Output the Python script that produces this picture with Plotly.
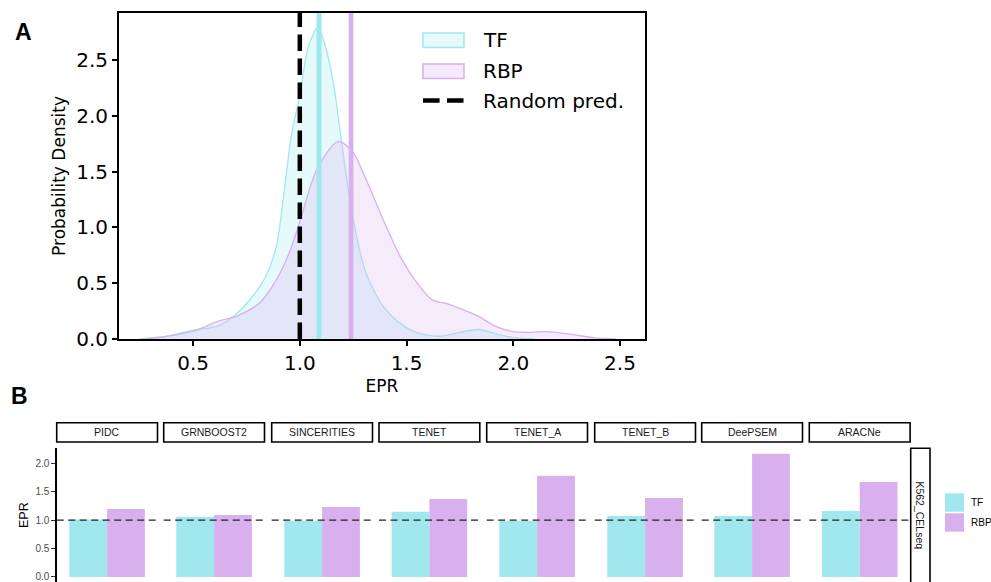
import plotly.graph_objects as go

W, H = 991, 582

# ---------------- Panel A data (KDE) ----------------
tf_x = [0.25, 0.39, 0.50, 0.58, 0.62, 0.70, 0.78, 0.84, 0.89, 0.93, 0.96, 1.00, 1.04,
        1.085, 1.12, 1.16, 1.20, 1.25, 1.31, 1.39, 1.47, 1.55, 1.66, 1.75, 1.84, 1.93, 2.00, 2.10]
tf_density = [0.0, 0.03, 0.08, 0.10, 0.12, 0.22, 0.385, 0.56, 0.83, 1.37, 1.82, 2.18, 2.62,
              2.79, 2.62, 2.26, 1.70, 1.07, 0.59, 0.295, 0.14, 0.054, 0.025, 0.06, 0.085, 0.04, 0.012, 0.0]
rbp_x = [0.28, 0.40, 0.50, 0.62, 0.71, 0.81, 0.89, 0.95, 1.00, 1.08, 1.18, 1.25, 1.31, 1.39,
         1.47, 1.55, 1.62, 1.70, 1.78, 1.84, 1.92, 2.00, 2.08, 2.16, 2.28, 2.38, 2.48]
rbp_density = [0.0, 0.03, 0.07, 0.16, 0.21, 0.32, 0.53, 0.77, 1.05, 1.52, 1.77, 1.67, 1.43, 1.07,
               0.74, 0.50, 0.35, 0.31, 0.25, 0.20, 0.11, 0.066, 0.06, 0.066, 0.04, 0.01, 0.0]
tf_mean_epr = 1.09
rbp_mean_epr = 1.24
random_epr = 1.0
a_xticks = [0.5, 1.0, 1.5, 2.0, 2.5]
a_yticks = [0.0, 0.5, 1.0, 1.5, 2.0, 2.5]

# ---------------- Panel B data ----------------
methods = ["PIDC", "GRNBOOST2", "SINCERITIES", "TENET", "TENET_A", "TENET_B", "DeePSEM", "ARACNe"]
tf_epr = [1.01, 1.06, 0.985, 1.145, 0.985, 1.07, 1.07, 1.16]
rbp_epr = [1.195, 1.09, 1.23, 1.37, 1.78, 1.39, 2.165, 1.67]
dataset = "K562_CELseq"
b_yticks = [0.0, 0.5, 1.0, 1.5, 2.0]

CYAN = "#A0E8EE"
PURPLE = "#D8B0EE"
CYAN_FILL = "rgba(160,232,238,0.26)"
PURPLE_FILL = "rgba(216,176,238,0.26)"
DV = "DejaVu Sans"
LS = "Liberation Sans"


def px(x):
    return x / W


def py(y):
    return 1 - y / H


fig = go.Figure()
shapes = []
annotations = []

# ---------------- Panel A ----------------
fig.add_trace(go.Scatter(x=tf_x, y=tf_density, mode="lines", line=dict(color=CYAN, width=1.3, shape="spline", smoothing=0.8),
                         fill="tozeroy", fillcolor=CYAN_FILL, xaxis="x", yaxis="y", showlegend=False, hoverinfo="skip"))
fig.add_trace(go.Scatter(x=rbp_x, y=rbp_density, mode="lines", line=dict(color=PURPLE, width=1.3, shape="spline", smoothing=0.8),
                         fill="tozeroy", fillcolor=PURPLE_FILL, xaxis="x", yaxis="y", showlegend=False, hoverinfo="skip"))

shapes.append(dict(type="line", xref="x", yref="y domain", x0=random_epr, x1=random_epr, y0=0, y1=1,
                   line=dict(color="black", width=4.5, dash="16.6px,7.4px")))
shapes.append(dict(type="line", xref="x", yref="y domain", x0=tf_mean_epr, x1=tf_mean_epr, y0=0, y1=1,
                   line=dict(color=CYAN, width=5)))
shapes.append(dict(type="line", xref="x", yref="y domain", x0=rbp_mean_epr, x1=rbp_mean_epr, y0=0, y1=1,
                   line=dict(color=PURPLE, width=4.7)))

# legend A (manual)
leg_rows = [("TF", 40), ("RBP", 71), ("Random pred.", 101)]
shapes.append(dict(type="rect", xref="paper", yref="paper", x0=px(423), x1=px(464), y0=py(47.5), y1=py(33),
                   fillcolor=CYAN_FILL, line=dict(color=CYAN, width=1.5)))
shapes.append(dict(type="rect", xref="paper", yref="paper", x0=px(423), x1=px(464), y0=py(78.5), y1=py(64),
                   fillcolor=PURPLE_FILL, line=dict(color=PURPLE, width=1.5)))
shapes.append(dict(type="line", xref="paper", yref="paper", x0=px(423), x1=px(463.5), y0=py(100.5), y1=py(100.5),
                   line=dict(color="black", width=4.5, dash="16.6px,7.4px")))
for label, yy in leg_rows:
    annotations.append(dict(text=label, xref="paper", yref="paper", x=px(481), y=py(yy), xanchor="left",
                            yanchor="middle", showarrow=False, font=dict(family=DV, size=20, color="black")))

annotations.append(dict(text="<b>A</b>", xref="paper", yref="paper", x=px(23), y=py(32), xanchor="center",
                        yanchor="middle", showarrow=False, font=dict(family=LS, size=23, color="black")))
annotations.append(dict(text="<b>B</b>", xref="paper", yref="paper", x=px(19), y=py(396), xanchor="center",
                        yanchor="middle", showarrow=False, font=dict(family=LS, size=23, color="black")))

layout_axes = {}
layout_axes["xaxis"] = dict(domain=[px(119), px(645)], range=[0.153, 2.617], anchor="y", automargin=False,
                            tickvals=a_xticks, ticktext=[f"{v:.1f}" for v in a_xticks],
                            showline=True, mirror=True, linecolor="black", linewidth=2,
                            ticks="outside", ticklen=5, tickwidth=1.5, tickcolor="black",
                            showgrid=False, zeroline=False,
                            tickfont=dict(family=DV, size=20, color="black"),
                            title=dict(text="EPR", font=dict(family=DV, size=17, color="black"), standoff=6))
layout_axes["yaxis"] = dict(domain=[py(339), py(13)], range=[0, 2.92], anchor="x", automargin=False,
                            tickvals=a_yticks, ticktext=[f"{v:.1f}" for v in a_yticks],
                            showline=True, mirror=True, linecolor="black", linewidth=2,
                            ticks="outside", ticklen=5, tickwidth=1.5, tickcolor="black",
                            showgrid=False, zeroline=False,
                            tickfont=dict(family=DV, size=20, color="black"),
                            title=dict(text="Probability Density", font=dict(family=DV, size=17, color="black"), standoff=6))

# ---------------- Panel B ----------------
panel_left = [56.7, 163.7, 271.7, 379.0, 486.7, 594.7, 701.7, 809.3]
panel_w = 100.8
strip_top, strip_bot = 422.7, 442.0
panel_top = 448.3

for i, m in enumerate(methods):
    xa = f"x{i + 2}"
    fig.add_trace(go.Bar(x=[m], y=[tf_epr[i]], xaxis=xa, yaxis="y2", width=0.45, offset=-0.45,
                         marker=dict(color=CYAN, line=dict(width=0)), showlegend=False, hoverinfo="skip"))
    fig.add_trace(go.Bar(x=[m], y=[rbp_epr[i]], xaxis=xa, yaxis="y2", width=0.45, offset=0.0,
                         marker=dict(color=PURPLE, line=dict(width=0)), showlegend=False, hoverinfo="skip"))
    layout_axes[f"xaxis{i + 2}"] = dict(domain=[px(panel_left[i]), px(panel_left[i] + panel_w)],
                                        anchor="y2", range=[-0.6, 0.6], showticklabels=False, automargin=False,
                                        showline=False, ticks="", showgrid=False, zeroline=False)
    shapes.append(dict(type="line", xref=f"{xa} domain", yref="y2", x0=0, x1=1, y0=1.0, y1=1.0,
                       line=dict(color="#222222", width=1.1, dash="7px,4.5px"), layer="above"))
    shapes.append(dict(type="rect", xref=f"{xa} domain", yref="paper", x0=0, x1=1,
                       y0=py(strip_bot), y1=py(strip_top), fillcolor="white",
                       line=dict(color="black", width=1.6)))
    annotations.append(dict(text=m, xref=f"{xa} domain", yref="paper", x=0.5, y=py((strip_top + strip_bot) / 2),
                            xanchor="center", yanchor="middle", showarrow=False,
                            font=dict(family=LS, size=10.5, color="#1a1a1a")))

layout_axes["yaxis2"] = dict(domain=[0, py(panel_top)], range=[-0.088, 2.262], anchor="x2", automargin=False,
                             tickvals=b_yticks, ticktext=[f"{v:.1f}" for v in b_yticks],
                             ticklabeloverflow="allow",
                             showline=True, linecolor="black", linewidth=1.6,
                             ticks="outside", ticklen=3.5, tickwidth=1, tickcolor="#333333",
                             showgrid=False, zeroline=False,
                             tickfont=dict(family=LS, size=10, color="#4D4D4D"),
                             title=dict(text="EPR", font=dict(family=LS, size=12.5, color="black"), standoff=4))

# right strip
shapes.append(dict(type="rect", xref="paper", yref="paper", x0=px(910.7), x1=px(930), y0=py(600), y1=py(panel_top),
                   fillcolor="white", line=dict(color="black", width=1.6)))
annotations.append(dict(text=dataset, xref="paper", yref="paper", x=px(920.3), y=py(515.7), textangle=90,
                        xanchor="center", yanchor="middle", showarrow=False,
                        font=dict(family=LS, size=10.5, color="#1a1a1a")))

# legend B (manual)
shapes.append(dict(type="rect", xref="paper", yref="paper", x0=px(945), x1=px(964), y0=py(511.7), y1=py(493.3),
                   fillcolor=CYAN, line=dict(width=0)))
shapes.append(dict(type="rect", xref="paper", yref="paper", x0=px(945), x1=px(964), y0=py(531.7), y1=py(513.3),
                   fillcolor=PURPLE, line=dict(width=0)))
annotations.append(dict(text="TF", xref="paper", yref="paper", x=px(968.5), y=py(502.5), xanchor="left",
                        yanchor="middle", showarrow=False, font=dict(family=LS, size=10, color="black")))
annotations.append(dict(text="RBP", xref="paper", yref="paper", x=px(968.5), y=py(522.5), xanchor="left",
                        yanchor="middle", showarrow=False, font=dict(family=LS, size=10, color="black")))

fig.update_layout(template="none", width=W, height=H, autosize=False,
                  margin=dict(l=0, r=0, t=0, b=0, pad=0, autoexpand=False),
                  paper_bgcolor="white", plot_bgcolor="white",
                  barmode="overlay", shapes=shapes, annotations=annotations, showlegend=False,
                  **layout_axes)

fig.write_html("out.html",
               config={"responsive": False, "displayModeBar": False},
               post_script="document.body.style.margin='0';document.body.style.padding='0';"
                           "document.documentElement.style.overflow='hidden';"
                           "document.body.style.overflow='hidden';")
